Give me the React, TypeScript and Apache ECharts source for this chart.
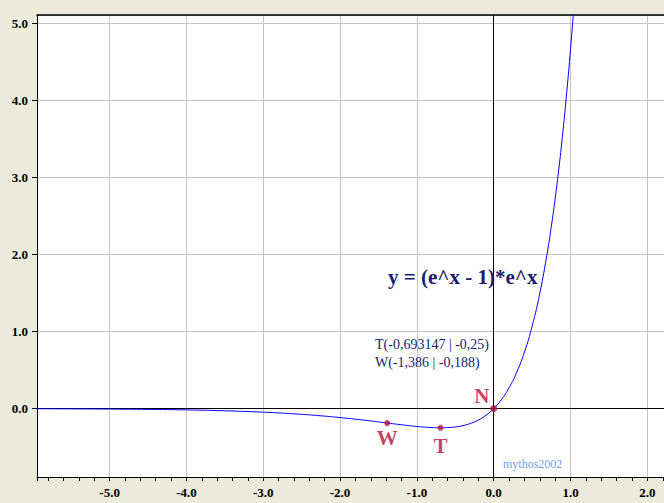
import React, { useEffect, useRef } from "react";
import * as echarts from "echarts";

// x-range and y-range of the plotted window
const X_MIN = -5.945;
const X_MAX = 2.216;
const Y_MIN = -0.888;
const Y_MAX = 5.104;

const curveX = [-6, -5.5, -5, -4.5, -4, -3.5, -3, -2.75, -2.5, -2.25, -2, -1.75, -1.5, -1.386, -1.25, -1.1, -1, -0.9, -0.8, -0.693, -0.6, -0.5, -0.4, -0.3, -0.2, -0.1, 0, 0.1, 0.2, 0.3, 0.4, 0.5, 0.6, 0.7, 0.75, 0.8, 0.85, 0.9, 0.95, 1.0, 1.05, 1.1];
const curveY = [-0.0025, -0.0041, -0.0067, -0.011, -0.018, -0.0293, -0.0473, -0.0598, -0.0754, -0.0943, -0.117, -0.1436, -0.1733, -0.1875, -0.2044, -0.2221, -0.2325, -0.2413, -0.2474, -0.25, -0.2476, -0.2387, -0.221, -0.192, -0.1484, -0.0861, 0, 0.1162, 0.2704, 0.4723, 0.7337, 1.0696, 1.498, 2.0415, 2.3647, 2.7275, 3.1343, 3.59, 4.1002, 4.6708, 5.3085, 6.0209];

// special points
const pointNames = ["W", "T", "N"];
const pointX = [-1.386, -0.693147, 0];
const pointY = [-0.188, -0.25, 0];

// texts
const equationText = "y = (e^x - 1)*e^x";
const infoLines = ["T(-0,693147 | -0,25)", "W(-1,386 | -0,188)"];
const signature = "mythos2002";

const SERIF = "'Liberation Serif', 'Times New Roman', serif";
const CRIMSON = "#b4103c";
const NAVY = "#1d1d6b";

export default function App() {
  const ref = useRef<HTMLDivElement>(null);

  useEffect(() => {
    if (!ref.current) return;
    const chart = echarts.init(ref.current, undefined, { renderer: "svg" });

    const labelStyle = {
      fontFamily: SERIF,
      fontWeight: "bold" as const,
      fontSize: 13,
      color: "#000",
    };

    const labelOffsets: Record<string, number[]> = {
      W: [0, 15],
      T: [0, 18],
      N: [-12, -13],
    };

    const option: any = {
      animation: false,
      backgroundColor: "#ecebdb",
      grid: {
        left: 37,
        top: 15,
        right: -2,
        bottom: 26,
        show: true,
        backgroundColor: "#ffffff",
        borderWidth: 0,
        containLabel: false,
      },
      xAxis: [
        {
          type: "value",
          min: X_MIN,
          max: X_MAX,
          splitNumber: 8,
          position: "bottom",
          axisLine: { onZero: false, lineStyle: { color: "#000", width: 1 } },
          axisTick: { show: true, inside: false, length: 4, lineStyle: { color: "#000" } },
          minorTick: { show: true, splitNumber: 5, length: 4, lineStyle: { color: "#000" } },
          axisLabel: {
            ...labelStyle,
            margin: 9,
            showMinLabel: false,
            showMaxLabel: false,
            formatter: (v: number) => v.toFixed(1),
          },
          splitLine: { show: true, lineStyle: { color: "#c4c4c4", width: 1 } },
        },
        {
          type: "value",
          min: X_MIN,
          max: X_MAX,
          position: "top",
          axisLine: { onZero: false, lineStyle: { color: "#000", width: 1.5 } },
          axisTick: { show: false },
          axisLabel: { show: false },
          splitLine: { show: false },
        },
      ],
      yAxis: {
        type: "value",
        min: Y_MIN,
        max: Y_MAX,
        splitNumber: 6,
        position: "left",
        axisLine: { show: true, onZero: false, lineStyle: { color: "#000", width: 1 } },
        axisTick: { show: true, inside: false, length: 5, lineStyle: { color: "#000" } },
        axisLabel: {
          ...labelStyle,
          margin: 9,
          showMinLabel: false,
          showMaxLabel: false,
          formatter: (v: number) => v.toFixed(1),
        },
        splitLine: { show: true, lineStyle: { color: "#c4c4c4", width: 1 } },
      },
      series: [
        {
          type: "line",
          xAxisIndex: 0,
          data: curveX.map((x, i) => [x, curveY[i]]),
          showSymbol: false,
          smooth: true,
          clip: true,
          lineStyle: { color: "#0000ff", width: 1 },
          silent: true,
          z: 3,
          markLine: {
            silent: true,
            symbol: "none",
            label: { show: false },
            lineStyle: { color: "#000", type: "solid", width: 1 },
            data: [{ xAxis: 0 }, { yAxis: 0 }],
            z: 2,
          },
        },
        {
          type: "scatter",
          xAxisIndex: 0,
          data: pointNames.map((n, i) => ({
            value: [pointX[i], pointY[i]],
            name: n,
            symbolSize: n === "N" ? 7 : 6,
            label: {
              show: true,
              position: "inside",
              offset: labelOffsets[n],
              formatter: n,
              fontFamily: SERIF,
              fontWeight: "bold",
              fontSize: 21,
              color: CRIMSON,
              align: "center",
              verticalAlign: "middle",
            },
          })),
          symbol: "circle",
          itemStyle: { color: CRIMSON },
          z: 5,
          silent: true,
        },
      ],
      graphic: [
        {
          type: "text",
          x: 388,
          y: 277,
          style: {
            text: equationText,
            fill: NAVY,
            font: `bold 21px ${SERIF}`,
            textAlign: "left",
            textVerticalAlign: "middle",
          },
          z: 10,
        },
        {
          type: "text",
          x: 375,
          y: 344,
          style: {
            text: infoLines[0],
            fill: NAVY,
            font: `14px ${SERIF}`,
            textAlign: "left",
            textVerticalAlign: "middle",
          },
          z: 10,
        },
        {
          type: "text",
          x: 375,
          y: 362,
          style: {
            text: infoLines[1],
            fill: NAVY,
            font: `14px ${SERIF}`,
            textAlign: "left",
            textVerticalAlign: "middle",
          },
          z: 10,
        },
        {
          type: "text",
          x: 503,
          y: 464,
          style: {
            text: signature,
            fill: "#6f9ff0",
            font: `12px ${SERIF}`,
            textAlign: "left",
            textVerticalAlign: "middle",
          },
          z: 10,
        },
      ],
    };

    chart.setOption(option);
    return () => chart.dispose();
  }, []);

  return (
    <div
      ref={ref}
      style={{ position: "fixed", left: 0, top: 0, width: 664, height: 503 }}
    />
  );
}
